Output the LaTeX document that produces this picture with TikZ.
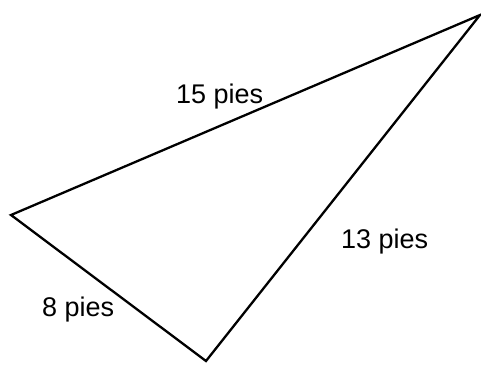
\documentclass[tikz,border=0pt]{standalone}
\usepackage{fontspec}
\setmainfont{Liberation Sans}
\begin{document}
\begin{tikzpicture}[x=1pt,y=-1pt,
  side/.style={line width=2.3pt, line join=miter},
  lbl/.style={font=\fontsize{27}{31}\selectfont, anchor=base west, inner sep=0pt}]
\useasboundingbox (0,0) rectangle (481,364);
\coordinate (A) at (11,215);
\coordinate (B) at (480,15);
\coordinate (C) at (206,361);
\draw[side] (A) -- (B) -- (C) -- cycle;
\node[lbl] (l15) at (176,103) {15 pies};
\node[lbl] (l13) at (341,248) {13 pies};
\node[lbl] (l8) at (42,316) {8 pies};
\end{tikzpicture}
\end{document}
